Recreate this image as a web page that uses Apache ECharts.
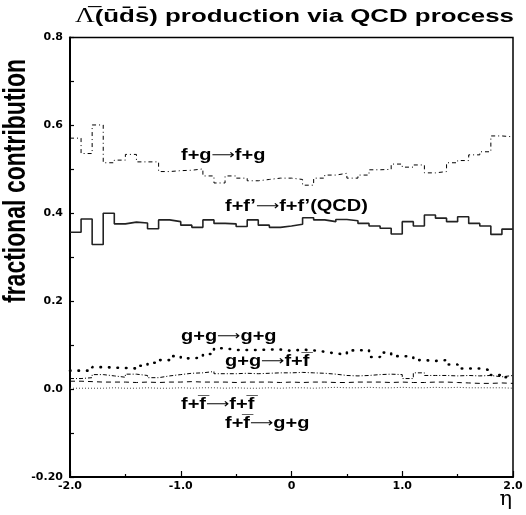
<!DOCTYPE html>
<html>
<head>
<meta charset="utf-8">
<script src="https://cdn.jsdelivr.net/npm/echarts@6/dist/echarts.min.js"></script>
<style>
  html, body { margin: 0; padding: 0; background: #fff; }
  #myChart { width: 526px; height: 515px; }
</style>
</head>
<body>
<div id="myChart"></div>
<script>
  // bin edges in eta (40 bins of 0.1)
  var etaEdges = [-2.0, -1.9, -1.8, -1.7, -1.6, -1.5, -1.4, -1.3, -1.2, -1.1,
    -1.0, -0.9, -0.8, -0.7, -0.6, -0.5, -0.4, -0.3, -0.2, -0.1,
    0.0, 0.1, 0.2, 0.3, 0.4, 0.5, 0.6, 0.7, 0.8, 0.9,
    1.0, 1.1, 1.2, 1.3, 1.4, 1.5, 1.6, 1.7, 1.8, 1.9, 2.0]

  // f+g -> f+g (dash-dot)
  var fgfg = [0.571, 0.536, 0.601, 0.515, 0.521, 0.534, 0.517, 0.517, 0.495, 0.497,
    0.498, 0.501, 0.485, 0.469, 0.485, 0.480, 0.474, 0.477, 0.480, 0.480,
    0.477, 0.464, 0.480, 0.487, 0.491, 0.480, 0.487, 0.499, 0.500, 0.512,
    0.505, 0.510, 0.492, 0.495, 0.515, 0.520, 0.533, 0.540, 0.576, 0.574]
  // f+f' -> f+f' (QCD) (solid)
  var ffQCD = [0.357, 0.387, 0.329, 0.400, 0.376, 0.380, 0.378, 0.365, 0.385, 0.381,
    0.373, 0.368, 0.385, 0.377, 0.376, 0.370, 0.385, 0.373, 0.368, 0.371,
    0.375, 0.390, 0.385, 0.381, 0.386, 0.383, 0.377, 0.371, 0.366, 0.353,
    0.381, 0.371, 0.396, 0.389, 0.381, 0.392, 0.377, 0.371, 0.352, 0.364]
  // g+g -> g+g (big dots)
  var gggg = [0.042, 0.042, 0.050, 0.049, 0.048, 0.047, 0.053, 0.060, 0.066, 0.075,
    0.070, 0.072, 0.080, 0.093, 0.089, 0.089, 0.089, 0.090, 0.090, 0.087,
    0.090, 0.088, 0.085, 0.081, 0.079, 0.088, 0.089, 0.073, 0.083, 0.075,
    0.074, 0.066, 0.064, 0.066, 0.056, 0.047, 0.047, 0.043, 0.032, 0.027]
  // g+g -> f+fbar (dash-dot)
  var ggff = [0.024, 0.026, 0.033, 0.030, 0.027, 0.034, 0.031, 0.026, 0.030, 0.033,
    0.036, 0.037, 0.040, 0.035, 0.035, 0.036, 0.035, 0.036, 0.037, 0.037,
    0.038, 0.037, 0.036, 0.034, 0.031, 0.030, 0.031, 0.033, 0.034, 0.033,
    0.024, 0.037, 0.031, 0.031, 0.030, 0.031, 0.030, 0.031, 0.028, 0.031]
  // f+fbar -> f+fbar (dashed)
  var ffbarff = [0.018, 0.017, 0.016, 0.016, 0.016, 0.015, 0.016, 0.015, 0.016, 0.016,
    0.017, 0.016, 0.016, 0.016, 0.015, 0.016, 0.016, 0.016, 0.015, 0.016,
    0.015, 0.016, 0.016, 0.015, 0.015, 0.016, 0.016, 0.016, 0.015, 0.016,
    0.015, 0.015, 0.016, 0.016, 0.015, 0.014, 0.013, 0.013, 0.014, 0.013]
  // f+fbar -> g+g (fine dotted)
  var ffbargg = [0.002, 0.002, 0.002, 0.003, 0.002, 0.002, 0.003, 0.002, 0.002, 0.003,
    0.002, 0.003, 0.003, 0.002, 0.003, 0.002, 0.002, 0.003, 0.002, 0.003,
    0.003, 0.002, 0.003, 0.004, 0.003, 0.003, 0.004, 0.003, 0.003, 0.004,
    0.003, 0.003, 0.004, 0.003, 0.004, 0.003, 0.003, 0.003, 0.003, 0.002]

  var OL = '\u0305' // combining overline
  var MC = '\u0304' // combining macron (separate bars)
  var AR = '{a|\u27f6}' // long arrow, wider like the symbol font one
  var titleText = '{s|\u039b' + OL + '}(u' + MC + 'd' + MC + 's' + MC + ') production via QCD process'

  // histogram -> step points on bin edges
  function steps(vals) {
    var pts = []
    for (var i = 0; i < vals.length; i++) pts.push([etaEdges[i], vals[i]])
    pts.push([etaEdges[vals.length], vals[vals.length - 1]])
    return pts
  }

  function note(text, x, y) {
    return {
      type: 'text', x: x, y: y, scaleX: 1.25, z: 100,
      style: {
        text: text, fill: '#000', align: 'left', verticalAlign: 'middle',
        font: 'bold 16px "Liberation Sans", Arial, sans-serif',
        rich: { a: { fontFamily: 'DejaVu Sans', fontWeight: 'normal', fontSize: 13 } }
      }
    }
  }

  var myChart = echarts.init(document.getElementById('myChart'))
  var boldFont = { color: '#000', fontFamily: 'DejaVu Sans', fontWeight: 'bold', fontSize: 11 }

  var option = {
    animation: false,
    backgroundColor: '#fff',
    grid: { left: 70, right: 13, top: 37.5, bottom: 38, show: true, borderColor: '#000', borderWidth: 1.5,
      containLabel: false, outerBoundsMode: 'none' },
    xAxis: {
      type: 'value', min: -2, max: 2, interval: 1,
      axisLine: { onZero: false, lineStyle: { color: '#000', width: 2 } },
      axisTick: { inside: true, length: 6, lineStyle: { color: '#000', width: 1.2 } },
      minorTick: { show: true, splitNumber: 2, length: 3, lineStyle: { color: '#000', width: 1.2 } },
      splitLine: { show: false },
      axisLabel: Object.assign({ margin: 4, showMinLabel: true, showMaxLabel: true,
        formatter: function (v) { return Math.abs(v) < 1e-9 ? '0' : v.toFixed(1) } }, boldFont)
    },
    yAxis: {
      type: 'value', min: -0.2, max: 0.8, interval: 0.2,
      axisLine: { onZero: false, lineStyle: { color: '#000', width: 2 } },
      axisTick: { inside: true, length: 4, lineStyle: { color: '#000', width: 1.2 } },
      minorTick: { show: true, splitNumber: 2, length: 4, lineStyle: { color: '#000', width: 1.2 } },
      splitLine: { show: false },
      axisLabel: Object.assign({ margin: 7, showMinLabel: true, showMaxLabel: true,
        formatter: function (v) {
          if (Math.abs(v + 0.2) < 1e-9) return '-0.20'
          return (Math.abs(v) < 1e-9 ? 0 : v).toFixed(1)
        } }, boldFont)
    },
    graphic: [
      {
        type: 'text', x: 75, y: 17, scaleX: 1.36, z: 100,
        style: {
          text: titleText, fill: '#000', align: 'left', verticalAlign: 'middle',
          font: 'bold 19px "Liberation Sans", Arial, sans-serif',
          rich: { s: { fontFamily: 'Liberation Serif', fontWeight: 'normal', fontSize: 20 } }
        }
      },
      {
        type: 'text', x: 16, y: 181, rotation: Math.PI / 2, scaleY: 1.35, z: 100,
        style: {
          text: 'fractional contribution', fill: '#000', align: 'center', verticalAlign: 'middle',
          font: 'bold 23px "Liberation Sans", Arial, sans-serif'
        }
      },
      {
        type: 'text', x: 512, y: 489, z: 100,
        style: { text: '\u03b7', fill: '#000', align: 'right', verticalAlign: 'top', font: '21px "DejaVu Serif", serif' }
      },
      note('f+g' + AR + 'f+g', 181, 156),
      note('f+f\u2019' + AR + 'f+f\u2019(QCD)', 225, 207),
      note('g+g' + AR + 'g+g', 181, 337),
      note('g+g' + AR + 'f+f' + OL, 225, 362),
      note('f+f' + OL + AR + 'f+f' + OL, 181, 405),
      note('f+f' + OL + AR + 'g+g', 225, 424)
    ],
    series: [
      { name: 'f+g', type: 'line', step: 'end', symbol: 'none', data: steps(fgfg),
        lineStyle: { color: '#000', width: 1, type: [4, 3, 1, 3] } },
      { name: 'QCD', type: 'line', step: 'end', symbol: 'none', data: steps(ffQCD),
        lineStyle: { color: '#222', width: 1.6 } },
      { name: 'gggg', type: 'line', step: 'end', symbol: 'none', data: steps(gggg),
        lineStyle: { color: '#000', width: 2.6, type: [0.5, 8], cap: 'round' } },
      { name: 'ggff', type: 'line', step: 'end', symbol: 'none', data: steps(ggff),
        lineStyle: { color: '#000', width: 1, type: [4, 2, 1, 2] } },
      { name: 'ffbarff', type: 'line', step: 'end', symbol: 'none', data: steps(ffbarff),
        lineStyle: { color: '#000', width: 1, type: [5, 4] } },
      { name: 'ffbargg', type: 'line', step: 'end', symbol: 'none', data: steps(ffbargg),
        lineStyle: { color: '#444', width: 1, type: [1, 2] } }
    ]
  }

  myChart.setOption(option)
</script>
</body>
</html>
